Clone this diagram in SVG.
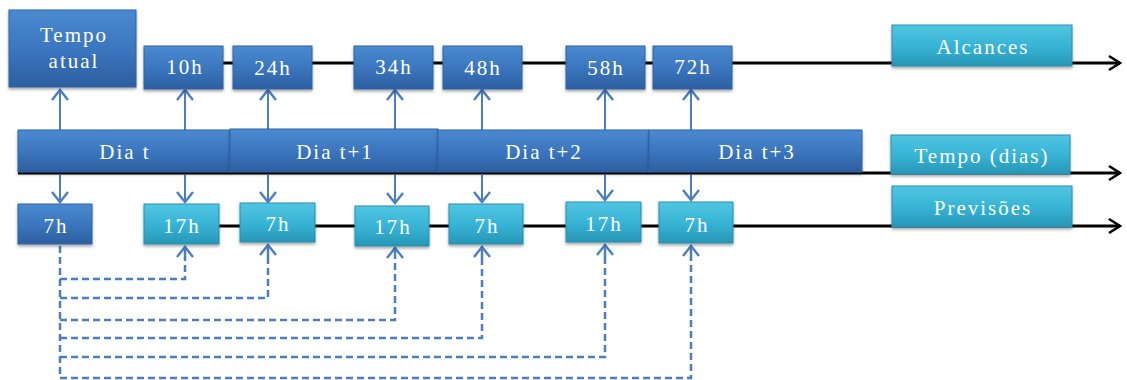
<svg xmlns="http://www.w3.org/2000/svg" width="1127" height="380" viewBox="0 0 1127 380">
  <defs>
    <linearGradient id="gBlue" x1="0" y1="0" x2="0" y2="1">
      <stop offset="0" stop-color="#4a8ad0"/>
      <stop offset="0.55" stop-color="#3a74bd"/>
      <stop offset="1" stop-color="#2c5f9f"/>
    </linearGradient>
    <linearGradient id="gCyan" x1="0" y1="0" x2="0" y2="1">
      <stop offset="0" stop-color="#50c6e2"/>
      <stop offset="0.55" stop-color="#36b2d4"/>
      <stop offset="1" stop-color="#2796b6"/>
    </linearGradient>
    <filter id="shadow" x="-10%" y="-10%" width="120%" height="140%">
      <feDropShadow dx="0" dy="2" stdDeviation="1.5" flood-color="#000" flood-opacity="0.35"/>
    </filter>
    <marker id="headBlue" markerUnits="userSpaceOnUse" markerWidth="16" markerHeight="20" refX="12" refY="10" orient="auto" viewBox="0 0 16 20">
      <path d="M2,2 L12,10 L2,18" fill="none" stroke="#4a7ec0" stroke-width="2.4"/>
    </marker>
    <marker id="headBlack" markerUnits="userSpaceOnUse" markerWidth="16" markerHeight="18" refX="14" refY="9" orient="auto" viewBox="0 0 16 18">
      <path d="M3,2 L14,9 L3,16" fill="none" stroke="#000" stroke-width="2.6"/>
    </marker>
    <style>
      .blue { fill: url(#gBlue); stroke: #2f64a4; stroke-width: 1; filter: url(#shadow); }
      .cyan { fill: url(#gCyan); stroke: #2a8fae; stroke-width: 1; filter: url(#shadow); }
      .lbl { font-family: "Liberation Serif", "Times New Roman", serif; font-size: 21px; letter-spacing: 2px; fill: #ffffff; text-anchor: middle; }
      .axis { stroke: #000; stroke-width: 3; fill: none; marker-end: url(#headBlack); }
      .arr { stroke: #4a7ec0; stroke-width: 2; fill: none; marker-end: url(#headBlue); }
      .dash { stroke: #4a7ec0; stroke-width: 2.5; fill: none; stroke-dasharray: 7 4; }
      .dashHead { stroke: #4a7ec0; stroke-width: 2.5; fill: none; marker-end: url(#headBlue); }
    </style>
  </defs>

  <!-- time axes and arrows -->
  <g id="connectors">
    <line class="axis" x1="223" y1="63" x2="1120" y2="63"/>
    <line class="axis" x1="18" y1="173" x2="1120" y2="173"/>
    <line class="axis" x1="219" y1="226" x2="1120" y2="226"/>

    <!-- from day bar up to the lead times -->
    <line class="arr" x1="60" y1="130" x2="60" y2="90"/>
    <line class="arr" x1="185" y1="130" x2="185" y2="90"/>
    <line class="arr" x1="268" y1="130" x2="268" y2="90"/>
    <line class="arr" x1="395" y1="130" x2="395" y2="90"/>
    <line class="arr" x1="482" y1="130" x2="482" y2="90"/>
    <line class="arr" x1="605" y1="130" x2="605" y2="90"/>
    <line class="arr" x1="691" y1="130" x2="691" y2="90"/>

    <!-- from day bar down to the forecast times -->
    <line class="arr" x1="60" y1="175" x2="60" y2="202"/>
    <line class="arr" x1="185" y1="175" x2="185" y2="202"/>
    <line class="arr" x1="268" y1="175" x2="268" y2="202"/>
    <line class="arr" x1="395" y1="175" x2="395" y2="203"/>
    <line class="arr" x1="482" y1="175" x2="482" y2="202"/>
    <line class="arr" x1="605" y1="175" x2="605" y2="200"/>
    <line class="arr" x1="691" y1="175" x2="691" y2="200"/>

    <!-- dashed links from the 7h run to each forecast -->
    <path class="dash" d="M60,246 V378 H691 V258"/>
    <path class="dash" d="M60,279 H185 V258"/>
    <path class="dash" d="M60,298 H268 V258"/>
    <path class="dash" d="M60,320 H395 V258"/>
    <path class="dash" d="M60,338 H482 V258"/>
    <path class="dash" d="M60,357 H605 V258"/>
    <line class="dashHead" x1="185" y1="258" x2="185" y2="247"/>
    <line class="dashHead" x1="268" y1="258" x2="268" y2="245"/>
    <line class="dashHead" x1="395" y1="258" x2="395" y2="248"/>
    <line class="dashHead" x1="482" y1="258" x2="482" y2="247"/>
    <line class="dashHead" x1="605" y1="258" x2="605" y2="245"/>
    <line class="dashHead" x1="691" y1="258" x2="691" y2="246"/>
  </g>

  <!-- lead time row -->
  <g id="tempo-atual">
    <rect class="blue" x="9" y="10" width="127" height="77"/>
    <text class="lbl" x="74" y="42">Tempo</text>
    <text class="lbl" x="74" y="68">atual</text>
  </g>
  <g id="h10"><rect class="blue" x="144" y="46" width="79" height="43"/><text class="lbl" x="185" y="74">10h</text></g>
  <g id="h24"><rect class="blue" x="233" y="46" width="79" height="43"/><text class="lbl" x="273" y="75">24h</text></g>
  <g id="h34"><rect class="blue" x="354" y="46" width="79" height="43"/><text class="lbl" x="394" y="74">34h</text></g>
  <g id="h48"><rect class="blue" x="443" y="46" width="79" height="43"/><text class="lbl" x="483" y="75">48h</text></g>
  <g id="h58"><rect class="blue" x="566" y="46" width="79" height="43"/><text class="lbl" x="606" y="75">58h</text></g>
  <g id="h72"><rect class="blue" x="653" y="46" width="79" height="43"/><text class="lbl" x="693" y="74">72h</text></g>
  <g id="alcances"><rect class="cyan" x="892" y="25" width="180" height="41"/><text class="lbl" x="983" y="54">Alcances</text></g>

  <!-- day bar -->
  <g id="dia-t"><rect class="blue" x="18" y="130" width="212" height="42"/><text class="lbl" x="125" y="159">Dia t</text></g>
  <g id="dia-t1"><rect class="blue" x="230" y="129" width="208" height="43"/><text class="lbl" x="335" y="159">Dia t+1</text></g>
  <g id="dia-t2"><rect class="blue" x="438" y="130" width="211" height="42"/><text class="lbl" x="544" y="159">Dia t+2</text></g>
  <g id="dia-t3"><rect class="blue" x="649" y="130" width="213" height="42"/><text class="lbl" x="757" y="159">Dia t+3</text></g>
  <g id="tempo-dias"><rect class="cyan" x="891" y="135" width="179" height="39"/><text class="lbl" x="982" y="163">Tempo (dias)</text></g>

  <!-- forecast row -->
  <g id="p7a"><rect class="blue" x="18" y="204" width="74" height="40"/><text class="lbl" x="56" y="233">7h</text></g>
  <g id="p17a"><rect class="cyan" x="144" y="204" width="75" height="40"/><text class="lbl" x="182" y="233">17h</text></g>
  <g id="p7b"><rect class="cyan" x="240" y="203" width="75" height="39"/><text class="lbl" x="278" y="231">7h</text></g>
  <g id="p17b"><rect class="cyan" x="355" y="206" width="74" height="40"/><text class="lbl" x="393" y="234">17h</text></g>
  <g id="p7c"><rect class="cyan" x="449" y="204" width="74" height="40"/><text class="lbl" x="487" y="233">7h</text></g>
  <g id="p17c"><rect class="cyan" x="566" y="202" width="75" height="40"/><text class="lbl" x="604" y="231">17h</text></g>
  <g id="p7d"><rect class="cyan" x="659" y="202" width="74" height="41"/><text class="lbl" x="697" y="232">7h</text></g>
  <g id="previsoes"><rect class="cyan" x="892" y="186" width="180" height="41"/><text class="lbl" x="983" y="215">Previsões</text></g>
</svg>
